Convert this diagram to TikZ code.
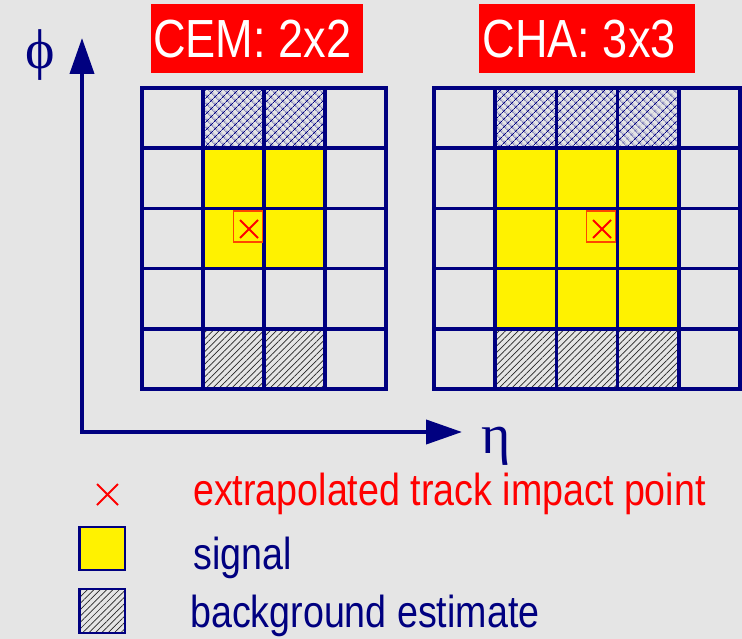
\documentclass[tikz,border=0pt]{standalone}
\usepackage{fontspec}
\setmainfont{Liberation Sans}[FakeStretch=0.84]
\newfontfamily\greekserif{Liberation Serif}
\usetikzlibrary{arrows.meta,patterns.meta}

\definecolor{navy}{RGB}{0,0,128}
\definecolor{panel}{RGB}{229,229,229}
\definecolor{impact}{RGB}{255,70,0}

\tikzset{
  gridline/.style={draw=navy, line width=3.6pt, line cap=rect},
  cellsignal/.style={fill=yellow},
  cellback/.style={pattern={Lines[angle=45,distance=4.5pt,line width=0.7pt]}, pattern color=black!85},
  cellcross/.style={pattern={Hatch[angle=45,distance=5.4pt,line width=0.7pt]}, pattern color=navy},
  axisline/.style={draw=navy, line width=4pt, line join=miter},
  titlebox/.style={fill=red, inner sep=0pt, minimum height=69pt},
  titletext/.style={text=white, inner sep=0pt, font=\fontsize{53.7}{60}\selectfont},
  legendtext/.style={inner sep=0pt, font=\fontsize{44.8}{50}\selectfont},
  greek/.style={text=navy, inner sep=0pt, font=\greekserif\fontsize{56}{60}\selectfont},
  impactbox/.style={draw=impact, line width=1.2pt},
  impactcross/.style={draw=red, line width=2pt},
  legendbox/.style={draw=navy, line width=2.5pt},
}

\begin{document}
\begin{tikzpicture}[x=1pt, y=-1pt]
  % panel background
  \fill[panel] (0,0) rectangle (742,639);
  \useasboundingbox (0,0) rectangle (742,639);

  % ---- CEM tower grid (4 x 5) ----
  \fill[cellcross]  (203,88)    rectangle (325,148.2);
  \fill[cellsignal] (203,148.2) rectangle (325,268.6);
  \fill[cellback]   (203,328.8) rectangle (325,389);
  \foreach \i in {0,...,4}
    \draw[gridline] ({142+61*\i},88) -- ({142+61*\i},389);
  \foreach \j in {0,...,5}
    \draw[gridline] (142,{88+60.2*\j}) -- (386,{88+60.2*\j});

  % ---- CHA tower grid (5 x 5) ----
  \fill[cellcross]  (495.2,88)    rectangle (678.8,148.2);
  \fill[cellsignal] (495.2,148.2) rectangle (678.8,328.8);
  \fill[cellback]   (495.2,328.8) rectangle (678.8,389);
  \foreach \i in {0,...,5}
    \draw[gridline] ({434+61.2*\i},88) -- ({434+61.2*\i},389);
  \foreach \j in {0,...,5}
    \draw[gridline] (434,{88+60.2*\j}) -- (740,{88+60.2*\j});

  % ---- track impact points ----
  \draw[impactbox] (233.5,211) rectangle (262.5,242);
  \draw[impactcross] (240,220) -- (258,238) (240,238) -- (258,220);
  \draw[impactbox] (586.5,211) rectangle (615.5,242);
  \draw[impactcross] (593,220) -- (611,238) (593,238) -- (611,220);

  % ---- titles ----
  \node[titlebox, minimum width=212pt] (cembox) at (257,38.5) {};
  \node[titletext, anchor=base west] (cemtext) at (153,57.5) {CEM: 2x2};
  \node[titlebox, minimum width=216pt] (chabox) at (587,38.5) {};
  \node[titletext, anchor=base west] (chatext) at (482.5,57.5) {CHA: 3x3};

  % ---- axes ----
  \coordinate (origin) at (82,432);
  \coordinate (phitip) at (82,38);
  \coordinate (etatip) at (462,432);
  \draw[axisline, {Triangle[length=36pt,width=24pt]}-{Triangle[length=36pt,width=24pt]}]
    (phitip) -- (origin) -- (etatip);
  \node[greek] (phi) at (40,55) {ϕ};
  \node[greek] (eta) at (496,446) {η};

  % ---- legend ----
  \draw[impactcross] (97,484) -- (118,505) (97,505) -- (118,484);
  \node[legendtext, text=red, anchor=base west] (legimpact) at (193,505) {extrapolated track impact point};
  \draw[legendbox, fill=yellow] (79.5,527) rectangle (125,570);
  \node[legendtext, text=navy, anchor=base west] (legsignal) at (193,569) {signal};
  \fill[cellback] (79.5,589) rectangle (125,633);
  \draw[legendbox] (79.5,589) rectangle (125,633);
  \node[legendtext, text=navy, anchor=base west] (legback) at (190,627) {background estimate};
\end{tikzpicture}
\end{document}
